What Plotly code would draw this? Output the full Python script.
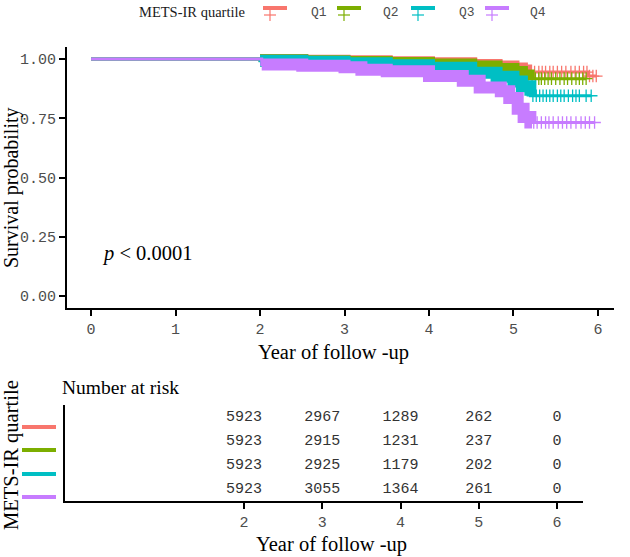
import numpy as np
import plotly.graph_objects as go

# ---------------- data ----------------
groups = ["Q1", "Q2", "Q3", "Q4"]
colors = ["#F8766D", "#7CAE00", "#00BFC4", "#C77CFF"]

# Kaplan-Meier step points (time in years, survival after the step)
q1_time = [0, 2.0, 2.5, 3.0, 3.5, 4.0, 4.5, 4.8, 5.0, 5.1, 5.15, 5.88]
q1_surv = [1, 0.996, 0.993, 0.99, 0.986, 0.982, 0.975, 0.968, 0.96, 0.952, 0.945, 0.928]
q2_time = [0, 2.0, 2.5, 3.0, 3.5, 4.0, 4.5, 4.8, 5.0, 5.1, 5.18]
q2_surv = [1, 0.995, 0.991, 0.987, 0.983, 0.977, 0.968, 0.958, 0.945, 0.93, 0.917]
q3_time = [0, 2.0, 2.5, 3.0, 3.5, 4.0, 4.5, 4.8, 5.0, 5.1, 5.2]
q3_surv = [1, 0.993, 0.988, 0.982, 0.974, 0.963, 0.942, 0.925, 0.905, 0.885, 0.845]
q4_time = [0, 2.02, 2.5, 3.0, 3.2, 3.5, 4.0, 4.4, 4.6, 4.85, 4.95, 5.05, 5.12, 5.2]
q4_surv = [1, 0.977, 0.972, 0.965, 0.955, 0.948, 0.928, 0.908, 0.88, 0.864, 0.835, 0.79, 0.755, 0.732]

# period with very dense censoring (drawn as a solid band of censor marks)
dense_start = [2.0, 2.0, 2.0, 2.02]
dense_end = [5.15, 5.18, 5.2, 5.22]

# sparse censor times in the tail
q1_cens = [5.2, 5.25, 5.3, 5.34, 5.38, 5.43, 5.47, 5.52, 5.57, 5.62, 5.68, 5.73, 5.78, 5.83, 5.87, 5.9, 5.94, 5.98]
q2_cens = [5.22, 5.26, 5.3, 5.33, 5.37, 5.41, 5.45, 5.5, 5.55, 5.6, 5.64, 5.69, 5.74, 5.78, 5.82, 5.86]
q3_cens = [5.23, 5.27, 5.31, 5.35, 5.39, 5.43, 5.47, 5.52, 5.56, 5.6, 5.65, 5.7, 5.74, 5.78, 5.86, 5.92]
q4_cens = [5.24, 5.28, 5.33, 5.38, 5.42, 5.47, 5.53, 5.58, 5.63, 5.68, 5.74, 5.8, 5.85, 5.9, 5.96]

# number at risk table
risk_times = [2, 3, 4, 5, 6]
q1_risk = [5923, 2967, 1289, 262, 0]
q2_risk = [5923, 2915, 1231, 237, 0]
q3_risk = [5923, 2925, 1179, 202, 0]
q4_risk = [5923, 3055, 1364, 261, 0]

x_ticks = [0, 1, 2, 3, 4, 5, 6]
y_ticks = [0, 0.25, 0.5, 0.75, 1.0]
y_ticklabels = ["0.00", "0.25", "0.50", "0.75", "1.00"]
p_label = "<i>p</i> < 0.0001"

times = [q1_time, q2_time, q3_time, q4_time]
survs = [q1_surv, q2_surv, q3_surv, q4_surv]
cens = [q1_cens, q2_cens, q3_cens, q4_cens]
risks = [q1_risk, q2_risk, q3_risk, q4_risk]

# ---------------- helpers ----------------
W, H = 630, 557
SERIF = "Liberation Serif"
MONO = "Liberation Mono"


def px(v):
    return v / W


def py(v):
    return 1 - v / H


def step_value(t_arr, s_arr, t):
    idx = np.searchsorted(t_arr, t, side="right") - 1
    return s_arr[idx]


fig = go.Figure()

for i, g in enumerate(groups):
    t = np.array(times[i], dtype=float)
    s = np.array(survs[i], dtype=float)
    c = np.array(cens[i], dtype=float)
    last = c.max()
    # thin KM line
    fig.add_trace(go.Scatter(
        x=np.append(t, last), y=np.append(s, s[-1]), mode="lines",
        line=dict(color=colors[i], width=3, shape="hv"),
        showlegend=False, hoverinfo="skip", xaxis="x", yaxis="y"))
    # dense censoring band
    m = (t >= dense_start[i]) & (t <= dense_end[i])
    bx = np.append(t[m], dense_end[i])
    by = np.append(s[m], step_value(t, s, dense_end[i]))
    fig.add_trace(go.Scatter(
        x=bx, y=by, mode="lines",
        line=dict(color=colors[i], width=12, shape="hv"),
        showlegend=False, hoverinfo="skip", xaxis="x", yaxis="y"))
    # tail censor marks
    fig.add_trace(go.Scatter(
        x=c, y=[step_value(t, s, v) for v in c], mode="markers",
        marker=dict(symbol="cross-thin", size=9,
                    line=dict(color=colors[i], width=1.3)),
        showlegend=False, hoverinfo="skip", xaxis="x", yaxis="y"))

# risk table numbers
rows = [4, 3, 2, 1]
for i, g in enumerate(groups):
    fig.add_trace(go.Scatter(
        x=risk_times, y=[rows[i]] * len(risk_times), mode="text",
        text=[str(v) for v in risks[i]],
        textfont=dict(family=MONO, size=15, color="#333333"),
        showlegend=False, hoverinfo="skip", xaxis="x2", yaxis="y2"))

axis_common = dict(showline=True, linewidth=2, linecolor="black", showgrid=False,
                   zeroline=False, ticks="outside", ticklen=6, tickwidth=1.5,
                   tickcolor="black", tickfont=dict(family=MONO, size=15, color="#4D4D4D"))

fig.update_layout(
    width=W, height=H, margin=dict(l=0, r=0, t=0, b=0),
    paper_bgcolor="white", plot_bgcolor="white", showlegend=False,
    xaxis=dict(domain=[px(67), px(614)], range=[-0.285, 6.19], tickvals=x_ticks,
               anchor="y", **axis_common),
    yaxis=dict(domain=[py(307.85), py(47.15)], range=[-0.05, 1.05], tickvals=y_ticks,
               ticktext=y_ticklabels, anchor="x", **axis_common),
    xaxis2=dict(domain=[px(65), px(583)], range=[-0.2875, 6.332], tickvals=risk_times,
                anchor="y2", **axis_common),
    yaxis2=dict(domain=[py(501), py(405)], range=[0.5, 4.5], anchor="x2",
                showline=True, linewidth=2, linecolor="black", showgrid=False,
                zeroline=False, showticklabels=False, ticks=""),
)


def label(text, x, y, size, family=SERIF, color="black", angle=0, xanchor="center"):
    return dict(text=text, x=px(x), y=py(y), xref="paper", yref="paper",
                xanchor=xanchor, yanchor="middle", textangle=angle, showarrow=False,
                font=dict(family=family, size=size, color=color))


ann = [
    label("Survival probability", 12, 188, 20, angle=-90),
    label("Year of follow -up", 333, 352, 20.5),
    label(p_label, 100, 253, 20.5, xanchor="left"),
    label("Number at risk", 60, 387, 19.5, xanchor="left"),
    label("METS-IR quartile", 11, 455, 20.5, angle=-90),
    label("Year of follow -up", 331, 544, 20.5),
    label("METS-IR quartile", 137, 12, 14.5, color="#1a1a1a", xanchor="left"),
]
shapes = []
key_x = [263, 337, 411, 485]
lab_x = [319, 391, 467, 538]
for i, g in enumerate(groups):
    ann.append(label(g, lab_x[i], 12, 13, family=MONO, color="#4D4D4D"))
    k0 = key_x[i]
    shapes.append(dict(type="line", xref="paper", yref="paper", x0=px(k0), x1=px(k0 + 24),
                       y0=py(8), y1=py(8), line=dict(color=colors[i], width=4)))
    shapes.append(dict(type="line", xref="paper", yref="paper", x0=px(k0 + 1), x1=px(k0 + 13),
                       y0=py(15), y1=py(15), line=dict(color=colors[i], width=1.2)))
    shapes.append(dict(type="line", xref="paper", yref="paper", x0=px(k0 + 7), x1=px(k0 + 7),
                       y0=py(10), y1=py(21), line=dict(color=colors[i], width=1.2)))
# risk table row colour bars
bar_y = [427, 450, 474, 497]
for i, g in enumerate(groups):
    shapes.append(dict(type="line", xref="paper", yref="paper", x0=px(22), x1=px(56),
                       y0=py(bar_y[i]), y1=py(bar_y[i]), line=dict(color=colors[i], width=4)))

fig.update_layout(annotations=ann, shapes=shapes)
fig.write_html("out.html")
